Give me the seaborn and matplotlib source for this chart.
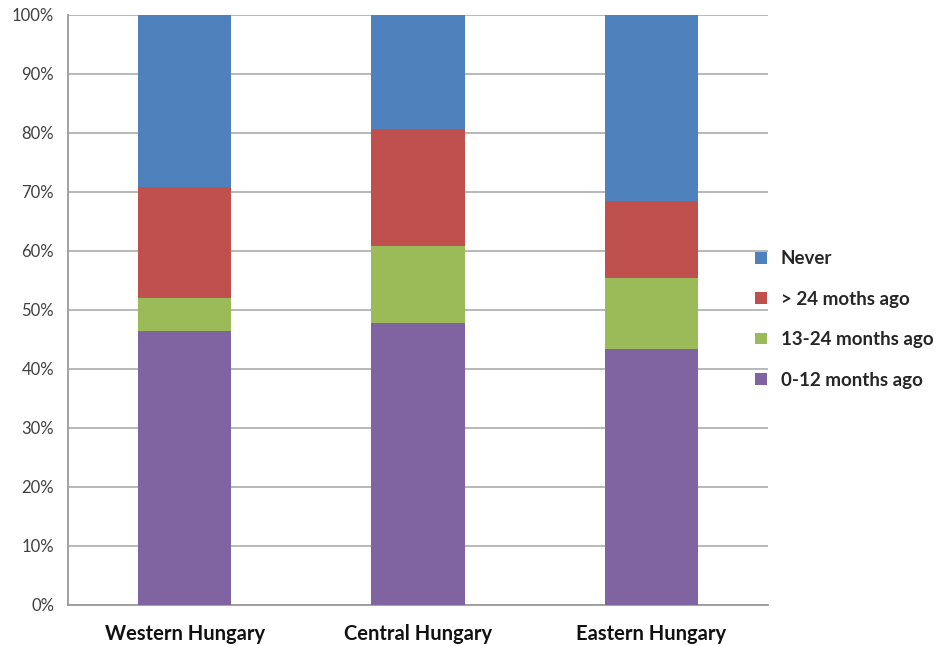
import numpy as np
import pandas as pd
import matplotlib
matplotlib.use('Agg')
import matplotlib.pyplot as plt
import seaborn as sns
from matplotlib.patches import Patch

# data (percent of respondents)
regions = ['Western Hungary', 'Central Hungary', 'Eastern Hungary']
months_0_12 = [46.4, 47.8, 43.4]
months_13_24 = [5.6, 13.1, 12.0]
months_over_24 = [18.8, 19.8, 13.1]
never = [29.2, 19.3, 31.5]

series_names = ['0-12 months ago', '13-24 months ago', '> 24 moths ago', 'Never']
colors = ['#8064A2', '#9BBB59', '#C0504D', '#4F81BD']

df = pd.DataFrame({
    'region': regions,
    '0-12 months ago': months_0_12,
    '13-24 months ago': months_13_24,
    '> 24 moths ago': months_over_24,
    'Never': never,
})
# cumulative tops so that layered bars look stacked
cum = df[series_names].cumsum(axis=1)
cum = cum.div(cum['Never'], axis=0) * 100

sns.set_style('white')
plt.rcParams['font.family'] = ['Lato', 'DejaVu Sans']

fig = plt.figure(figsize=(9.44, 6.46), dpi=100)
ax = fig.add_axes([0.072, 0.0635, 0.7415, 0.9135])

for name, col in reversed(list(zip(series_names, colors))):
    sns.barplot(x=df['region'], y=cum[name], color=col, width=0.4,
                saturation=1, linewidth=0, ax=ax, zorder=3)

ax.set_xlim(-0.5, 2.5)
ax.set_ylim(0, 100)
ax.set_yticks(np.arange(0, 101, 10))
ax.set_yticklabels([f'{v}%' for v in range(0, 101, 10)], fontsize=12, color='#404040')
ax.set_xlabel('')
ax.set_ylabel('')
ax.tick_params(axis='x', length=0, pad=14, labelsize=14.5)
for lab in ax.get_xticklabels():
    lab.set_fontweight('bold')
    lab.set_color('#111111')
ax.set_xticks([0.5, 1.5], minor=True)
ax.tick_params(axis='x', which='minor', length=4, color='#c8c8c8', width=1)
ax.tick_params(axis='y', length=5, color='#9a9a9a', width=1.2, pad=5)

ax.grid(axis='y', color='#b2b2b2', linewidth=1.3, zorder=0)
ax.set_axisbelow(True)
for s in ['top', 'right']:
    ax.spines[s].set_visible(False)
ax.spines['left'].set_color('#9a9a9a')
ax.spines['left'].set_linewidth(1.3)
ax.spines['bottom'].set_color('#9a9a9a')
ax.spines['bottom'].set_linewidth(1.3)

handles = [Patch(facecolor=c, edgecolor='none') for c in reversed(colors)]
leg = ax.legend(handles, list(reversed(series_names)), loc='center left',
                bbox_to_anchor=(0.958, 0.484), frameon=False,
                handlelength=0.6, handleheight=0.6, handletextpad=0.75,
                labelspacing=1.25, prop={'weight': 'bold', 'size': 13.5})

fig.savefig('out.png', dpi=100)
